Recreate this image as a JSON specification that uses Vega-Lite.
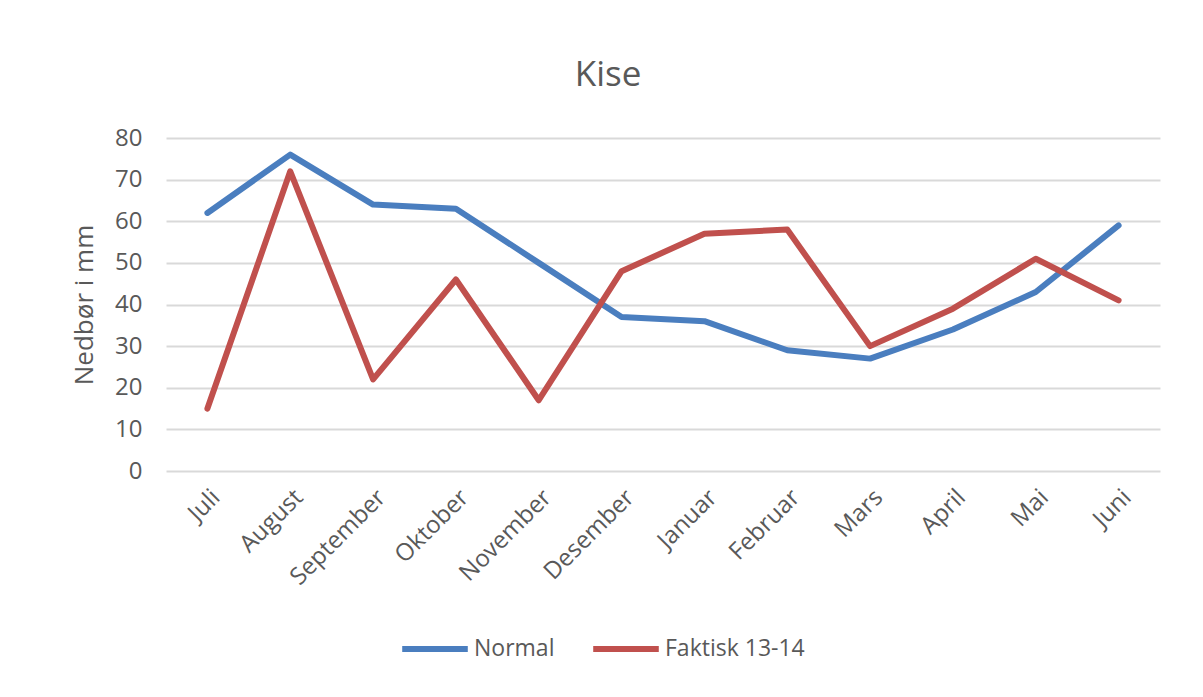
{
  "$schema": "https://vega.github.io/schema/vega-lite/v6.json",
  "autosize": {"type": "none"},
  "padding": {"left": 166, "top": 138, "right": 43, "bottom": 226},
  "width": 994,
  "height": 333,
  "background": "white",
  "title": {
    "text": "Kise",
    "anchor": "middle",
    "dx": -55,
    "offset": 33,
    "font": "Open Sans",
    "fontSize": 35,
    "fontWeight": "normal",
    "color": "#595959"
  },
  "config": {
    "view": {"stroke": null},
    "font": "Open Sans"
  },
  "data": {
    "values": [
      {"month": "Juli", "series": "Normal", "value": 62},
      {"month": "August", "series": "Normal", "value": 76},
      {"month": "September", "series": "Normal", "value": 64},
      {"month": "Oktober", "series": "Normal", "value": 63},
      {"month": "November", "series": "Normal", "value": 50},
      {"month": "Desember", "series": "Normal", "value": 37},
      {"month": "Januar", "series": "Normal", "value": 36},
      {"month": "Februar", "series": "Normal", "value": 29},
      {"month": "Mars", "series": "Normal", "value": 27},
      {"month": "April", "series": "Normal", "value": 34},
      {"month": "Mai", "series": "Normal", "value": 43},
      {"month": "Juni", "series": "Normal", "value": 59},
      {"month": "Juli", "series": "Faktisk 13-14", "value": 15},
      {"month": "August", "series": "Faktisk 13-14", "value": 72},
      {"month": "September", "series": "Faktisk 13-14", "value": 22},
      {"month": "Oktober", "series": "Faktisk 13-14", "value": 46},
      {"month": "November", "series": "Faktisk 13-14", "value": 17},
      {"month": "Desember", "series": "Faktisk 13-14", "value": 48},
      {"month": "Januar", "series": "Faktisk 13-14", "value": 57},
      {"month": "Februar", "series": "Faktisk 13-14", "value": 58},
      {"month": "Mars", "series": "Faktisk 13-14", "value": 30},
      {"month": "April", "series": "Faktisk 13-14", "value": 39},
      {"month": "Mai", "series": "Faktisk 13-14", "value": 51},
      {"month": "Juni", "series": "Faktisk 13-14", "value": 41}
    ]
  },
  "mark": {"type": "line", "strokeWidth": 6, "strokeCap": "round", "strokeJoin": "round"},
  "encoding": {
    "x": {
      "field": "month",
      "type": "ordinal",
      "sort": ["Juli", "August", "September", "Oktober", "November", "Desember", "Januar", "Februar", "Mars", "April", "Mai", "Juni"],
      "scale": {"type": "point", "padding": 0.5},
      "axis": {
        "title": null,
        "labelAngle": -45,
        "labelFont": "Open Sans",
        "labelFontSize": 24,
        "labelColor": "#595959",
        "labelPadding": 14,
        "ticks": false,
        "domain": false,
        "grid": false
      }
    },
    "y": {
      "field": "value",
      "type": "quantitative",
      "scale": {"domain": [0, 80], "nice": false},
      "axis": {
        "title": "Nedbør i mm",
        "titleFont": "Open Sans",
        "titleFontSize": 26,
        "titleFontWeight": "normal",
        "titleColor": "#595959",
        "titlePadding": 17,
        "values": [0, 10, 20, 30, 40, 50, 60, 70, 80],
        "labelFont": "Open Sans",
        "labelFontSize": 24,
        "labelColor": "#595959",
        "labelPadding": 24,
        "ticks": false,
        "domain": false,
        "grid": true,
        "gridColor": "#d9d9d9",
        "gridWidth": 1.8
      }
    },
    "color": {
      "field": "series",
      "type": "nominal",
      "scale": {"domain": ["Normal", "Faktisk 13-14"], "range": ["#4A7EBF", "#C0504D"]},
      "legend": {
        "title": null,
        "orient": "none",
        "direction": "horizontal",
        "legendX": 233,
        "legendY": 475,
        "symbolType": "stroke",
        "symbolSize": 4300,
        "symbolStrokeWidth": 6,
        "labelFont": "Open Sans",
        "labelFontSize": 23,
        "labelColor": "#595959",
        "labelOffset": 3,
        "columnPadding": 26
      }
    }
  }
}
